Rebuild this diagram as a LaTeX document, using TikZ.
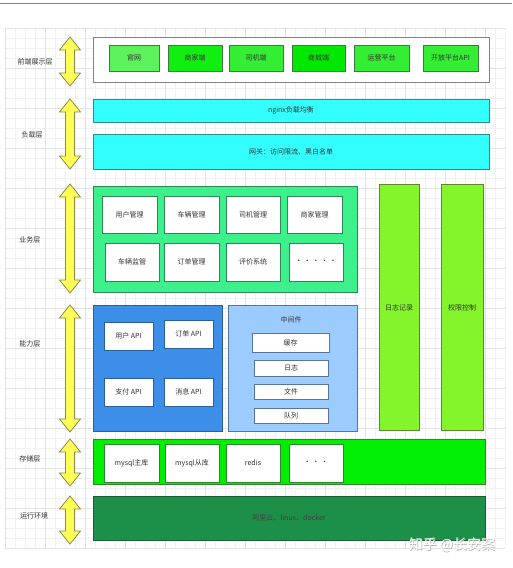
\documentclass[tikz,border=0pt]{standalone}
\usepackage{fontspec}
\setmainfont{Noto Sans CJK SC}
\definecolor{txt}{HTML}{333333}
\definecolor{gminor}{HTML}{F1F1F1}
\definecolor{gmajor}{HTML}{E2E2E2}
\definecolor{topline}{HTML}{A07A5C}
\definecolor{gbdr}{HTML}{3F7A40}
\definecolor{fA}{HTML}{5CF25C}
\definecolor{fB}{HTML}{11EE11}
\definecolor{fC}{HTML}{33EE33}
\definecolor{fD}{HTML}{00E800}
\definecolor{cyanf}{HTML}{33FFFF}
\definecolor{cyanb}{HTML}{2E8B8B}
\definecolor{bizf}{HTML}{3EF08C}
\definecolor{bizb}{HTML}{2A8A55}
\definecolor{barf}{HTML}{84F52A}
\definecolor{barb}{HTML}{5A8A2A}
\definecolor{bluef}{HTML}{3C8EE8}
\definecolor{blueb}{HTML}{2A5F9A}
\definecolor{midf}{HTML}{9CCBFF}
\definecolor{midb}{HTML}{55759A}
\definecolor{storf}{HTML}{00EE00}
\definecolor{storb}{HTML}{2A8A2A}
\definecolor{runf}{HTML}{1C9049}
\definecolor{runb}{HTML}{1B5E30}
\definecolor{arrf}{HTML}{FFFF55}
\definecolor{arrb}{HTML}{8A8A50}
\tikzset{
  base/.style={inner sep=0pt,outer sep=0pt,line width=0.8pt,text=txt,font=\fontsize{7}{8}\selectfont},
  frontbox/.style={base,fill=#1,draw=gbdr},
  whitebox/.style={base,fill=white,draw=#1},
  layerlabel/.style={inner sep=0pt,text=txt,font=\fontsize{7}{8}\selectfont},
  yarrow/.style={fill=arrf,draw=arrb,line width=0.8pt,line join=miter},
  wmark/.style={inner sep=0pt,font=\fontsize{14}{16}\selectfont}
}
\newcommand{\bx}[7]{\node[#6,anchor=north west,minimum width={(#4-#2)*1pt},minimum height={(#5-#3)*1pt}] (#1) at (#2,#3) {#7};}
\newcommand{\yarr}[3]{\draw[yarrow] (#1,#2) -- (#1+10.5,#2+13) -- (#1+4.5,#2+13) -- (#1+4.5,#3-13) -- (#1+10.5,#3-13) -- (#1,#3) -- (#1-10.5,#3-13) -- (#1-4.5,#3-13) -- (#1-4.5,#2+13) -- (#1-10.5,#2+13) -- cycle;}
\begin{document}
\begin{tikzpicture}[x=1pt,y=-1pt]
\useasboundingbox (0,0) rectangle (512,568);
\fill[white] (0,0) rectangle (512,568);
% grid
\foreach \gx in {5,15,...,505} \draw[gminor,line width=0.4pt] (\gx,28) -- (\gx,548);
\foreach \gy in {28,38,...,548} \draw[gminor,line width=0.4pt] (5,\gy) -- (505,\gy);
\foreach \gx in {5,45,...,485} \draw[gmajor,line width=0.5pt] (\gx,28) -- (\gx,548);
\foreach \gy in {28,68,...,548} \draw[gmajor,line width=0.5pt] (5,\gy) -- (505,\gy);
% top line
\draw[topline,line width=1pt] (0,3) -- (512,3);

% front layer
\bx{front}{93}{37}{489}{82}{whitebox=gray}{}
\bx{gw}{109}{45}{159}{71}{frontbox=fA}{官网}
\bx{sj}{168}{45}{222}{71}{frontbox=fB}{商家端}
\bx{dr}{229}{45}{283}{71}{frontbox=fC}{司机端}
\bx{sc}{292}{45}{345}{71}{frontbox=fD}{商城端}
\bx{yy}{354}{45}{409}{71}{frontbox=fC}{运营平台}
\bx{kf}{423}{45}{478}{71}{frontbox=fC}{开放平台API}

% load layer
\bx{nginx}{93}{99}{489}{122}{base,fill=cyanf,draw=cyanb}{nginx负载均衡}
\bx{gate}{93}{134}{489}{169}{base,fill=cyanf,draw=cyanb}{网关：访问限流、黑白名单}

% business layer
\bx{biz}{93}{186}{357}{292}{base,fill=bizf,draw=bizb}{}
\bx{u1}{102}{196}{157}{233}{whitebox=bizb}{用户管理}
\bx{u2}{164}{196}{219}{233}{whitebox=bizb}{车辆管理}
\bx{u3}{226}{196}{280}{233}{whitebox=bizb}{司机管理}
\bx{u4}{287}{196}{342}{233}{whitebox=bizb}{商家管理}
\bx{v1}{105}{243}{159}{281}{whitebox=bizb}{车辆监管}
\bx{v2}{164}{243}{219}{281}{whitebox=bizb}{订单管理}
\bx{v3}{226}{243}{280}{281}{whitebox=bizb}{评价系统}
\bx{v4}{289}{243}{343}{281}{whitebox=bizb}{· · · · ·}

% side bars
\bx{log}{379}{184}{419}{430}{base,fill=barf,draw=barb}{}
\bx{auth}{441}{184}{483}{430}{base,fill=barf,draw=barb}{}
\node[layerlabel] (logt) at (399,308) {日志记录};
\node[layerlabel] (autht) at (462,308) {权限控制};

% capability layer
\bx{cap}{93}{305}{222}{431}{base,fill=bluef,draw=blueb}{}
\bx{a1}{104}{322}{153}{350}{whitebox=blueb}{用户 API}
\bx{a2}{164}{320}{213}{348}{whitebox=blueb}{订单 API}
\bx{a3}{104}{378}{153}{406}{whitebox=blueb}{支付 API}
\bx{a4}{164}{378}{213}{406}{whitebox=blueb}{消息 API}
\bx{mid}{228}{305}{357}{431}{base,fill=midf,draw=midb}{}
\node[layerlabel] (midt) at (291,320) {中间件};
\bx{m1}{252}{333}{329}{352}{whitebox=midb}{缓存}
\bx{m2}{254}{360}{328}{376}{whitebox=midb}{日志}
\bx{m3}{254}{384}{328}{399}{whitebox=midb}{文件}
\bx{m4}{254}{408}{328}{423}{whitebox=midb}{队列}

% storage layer
\bx{stor}{93}{439}{485}{484}{base,fill=storf,draw=storb}{}
\bx{s1}{104}{444}{159}{482}{whitebox=storb}{mysql主库}
\bx{s2}{165}{444}{219}{482}{whitebox=storb}{mysql从库}
\bx{s3}{226}{444}{280}{482}{whitebox=storb}{redis}
\bx{s4}{289}{444}{343}{482}{whitebox=storb}{· · ·}

% runtime layer
\bx{run}{93}{496}{485}{540}{base,fill=runf,draw=runb,text=black!75}{阿里云、linux、docker}

% arrows and labels
\yarr{70}{37}{86}
\yarr{70}{99}{169}
\yarr{70}{184}{293}
\yarr{70}{305}{432}
\yarr{70}{439}{486}
\yarr{70}{496}{544}
\node[layerlabel] (l1) at (35,62) {前端展示层};
\node[layerlabel] (l2) at (32,135) {负载层};
\node[layerlabel] (l3) at (30,240) {业务层};
\node[layerlabel] (l4) at (30,344) {能力层};
\node[layerlabel] (l5) at (30,459) {存储层};
\node[layerlabel] (l6) at (34,516) {运行环境};

% watermark
\node[wmark,text=black!30] (wmshadow) at (452.8,545.8) {知乎 @长安案};
\node[wmark,text=white] (wm) at (452,545) {知乎 @长安案};
\end{tikzpicture}
\end{document}
